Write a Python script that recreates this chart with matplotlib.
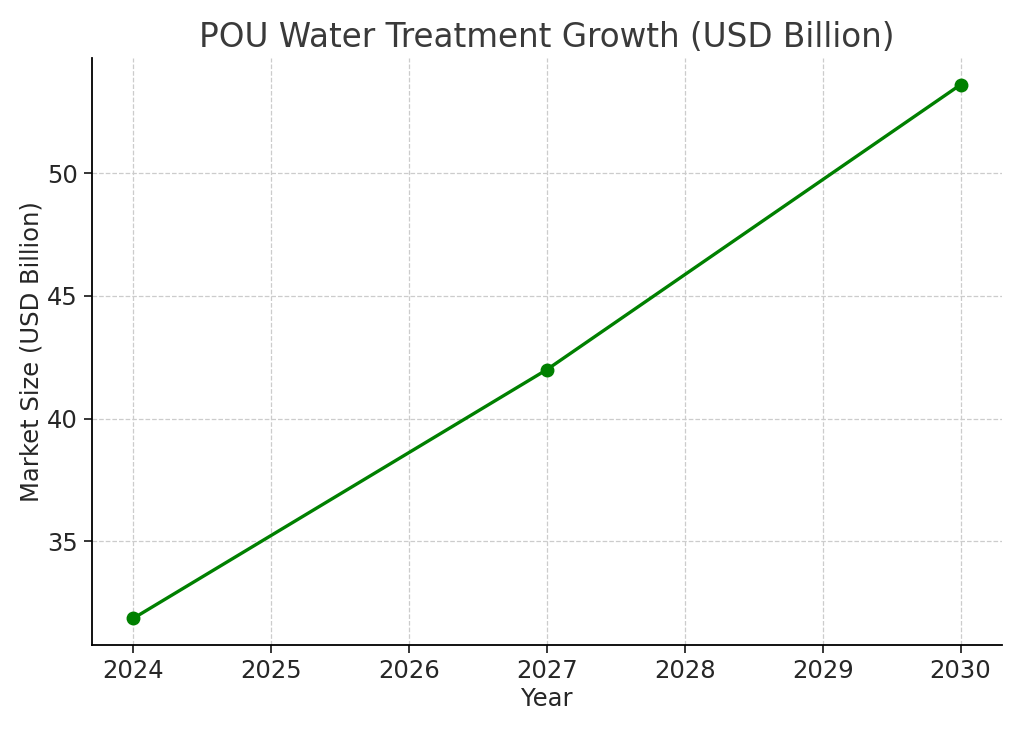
import matplotlib
matplotlib.use("Agg")
import matplotlib.pyplot as plt

years = [2024, 2027, 2030]
market_size = [31.87, 42.0, 53.6]
tick_years = [2024, 2025, 2026, 2027, 2028, 2029, 2030]

fig = plt.figure(figsize=(10.24, 7.31), dpi=100)
ax = fig.add_axes([0.0898, 0.1176, 0.8887, 0.8031])

ax.plot(years, market_size, marker='o', color='green', linewidth=2.4, markersize=9)

ax.set_xticks(tick_years)
ax.set_yticks([35, 40, 45, 50])
ax.tick_params(labelsize=17.5, colors='#262626', length=6, width=1.3, pad=4)
ax.set_xlabel("Year", fontsize=17.5, color='#262626', labelpad=3)
ax.set_ylabel("Market Size (USD Billion)", fontsize=17.5, color='#262626', labelpad=3)
ax.set_title("POU Water Treatment Growth (USD Billion)", fontsize=23.5, color='#3a3a3a', pad=8)

ax.grid(True, linestyle='--', color='#cccccc', linewidth=0.9)
ax.spines['top'].set_visible(False)
ax.spines['right'].set_visible(False)
for s in ['left', 'bottom']:
    ax.spines[s].set_linewidth(1.3)

fig.savefig("out.png", dpi=100)
